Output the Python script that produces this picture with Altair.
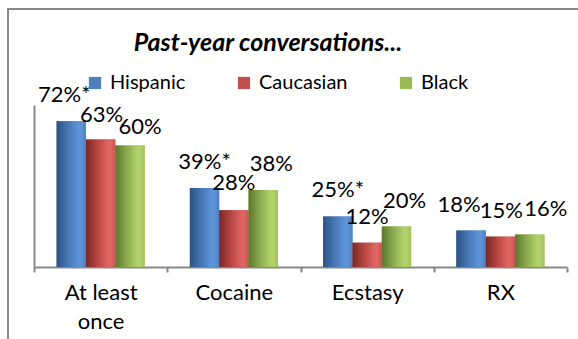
import altair as alt
import pandas as pd

categories = ["At least once", "Cocaine", "Ecstasy", "RX"]
groups = ["Hispanic", "Caucasian", "Black"]
hispanic = [72, 39, 25, 18]
caucasian = [63, 28, 12, 15]
black = [60, 38, 20, 16]
hispanic_sig = [True, True, True, False]

colors = ["#4F81BD", "#C0504D", "#9BBB59"]
FONT = "Lato"

rows = []
for gi, (g, vals) in enumerate(zip(groups, [hispanic, caucasian, black])):
    for ci, (c, v) in enumerate(zip(categories, vals)):
        star = "*" if (g == "Hispanic" and hispanic_sig[ci]) else ""
        rows.append({"category": c, "group": g, "value": v / 100,
                     "label": f"{v}%{star}", "id": f"{c}|{g}"})
df = pd.DataFrame(rows)

# manual label nudges (pixels), like the hand-placed labels of the original
nudges = {
    "At least once|Hispanic": (-7, 0),
    "At least once|Caucasian": (1, 2),
    "At least once|Black": (10, 7),
    "Cocaine|Caucasian": (0, -1),
    "Cocaine|Black": (8, 0),
    "Ecstasy|Black": (8, 0),
    "RX|Hispanic": (-12, 0),
    "RX|Caucasian": (1, 0),
    "RX|Black": (16, 0),
}

gradients = {
    "Hispanic": ["#2B5283", "#4573B0", "#5B92D6", "#5E95D8", "#4F80C0"],
    "Caucasian": ["#7A2826", "#B0423F", "#DC615E", "#E06865", "#C95552"],
    "Black": ["#5C772C", "#86A54B", "#AFCF68", "#B4D36E", "#A0C05C"],
}

AX = "#888888"

x_enc = alt.X("category:N", sort=categories,
              scale=alt.Scale(paddingInner=0, paddingOuter=0),
              axis=alt.Axis(title=None, labelAngle=0, tickBand="extent",
                            labelFont=FONT, labelFontSize=22, labelColor="#000000",
                            labelLineHeight=29, labelPadding=10,
                            labelExpr="datum.value == 'At least once' ? ['At least', 'once'] : datum.value",
                            domainColor=AX, domainWidth=2, tickColor=AX,
                            tickWidth=2, tickSize=5, grid=False))
xo_enc = alt.XOffset("group:N", sort=groups,
                     scale=alt.Scale(paddingOuter=0.77, paddingInner=0))
y_enc = alt.Y("value:Q", scale=alt.Scale(domain=[0, 0.8]),
              axis=alt.Axis(title=None, labels=False, ticks=False, grid=False,
                            domainColor=AX, domainWidth=2))

base = alt.Chart(df)

bars = base.mark_bar().encode(
    x=x_enc, xOffset=xo_enc, y=y_enc,
    color=alt.Color("group:N", sort=groups,
                    scale=alt.Scale(domain=groups, range=colors),
                    legend=alt.Legend(title=None, orient="none", direction="horizontal",
                                      legendX=51, legendY=-32,
                                      symbolType="square", symbolSize=150,
                                      symbolStrokeWidth=0, labelFont=FONT,
                                      labelFontSize=20, labelColor="#000000",
                                      labelOffset=5, columnPadding=48)),
)

layers = [bars]
for g in groups:
    stops = gradients[g]
    offs = [0, 0.35, 0.72, 0.82, 1]
    grad = alt.Gradient(gradient="linear", x1=0, x2=1, y1=0, y2=0,
                        stops=[alt.GradientStop(color=c, offset=o) for c, o in zip(stops, offs)])
    layers.append(
        base.transform_filter(alt.datum.group == g)
        .mark_bar(fill=grad)
        .encode(x=x_enc, xOffset=xo_enc, y=y_enc)
    )

for rid in df["id"]:
    dx, dy = nudges.get(rid, (0, 0))
    layers.append(
        base.transform_filter(alt.datum.id == rid)
        .mark_text(font=FONT, fontSize=22, color="#000000", baseline="alphabetic",
                   align="center", dx=dx, dy=-19 + dy)
        .encode(x=x_enc, xOffset=xo_enc, y=y_enc, text="label:N")
    )

title = alt.Chart(pd.DataFrame({"t": ["Past-year conversations..."]})).mark_text(
    font=FONT, fontSize=25, fontWeight="bold", fontStyle="italic",
    color="#000000", align="center", baseline="alphabetic"
).encode(x=alt.value(234), y=alt.value(-54), text="t:N")

border = alt.Chart(pd.DataFrame({"a": [0]})).mark_rect(
    fill="transparent", stroke="#898989", strokeWidth=2
).encode(x=alt.value(-26), y=alt.value(-96), x2=alt.value(700), y2=alt.value(400))

chart = alt.layer(border, *layers, title).properties(
    width=533, height=162,
    padding={"left": 34, "top": 105, "right": 11, "bottom": 72},
    autosize=alt.AutoSizeParams(type="none"),
    background="#ffffff",
).configure_view(stroke=None)

chart.save("out.html", embed_options={"renderer": "svg", "actions": False})
